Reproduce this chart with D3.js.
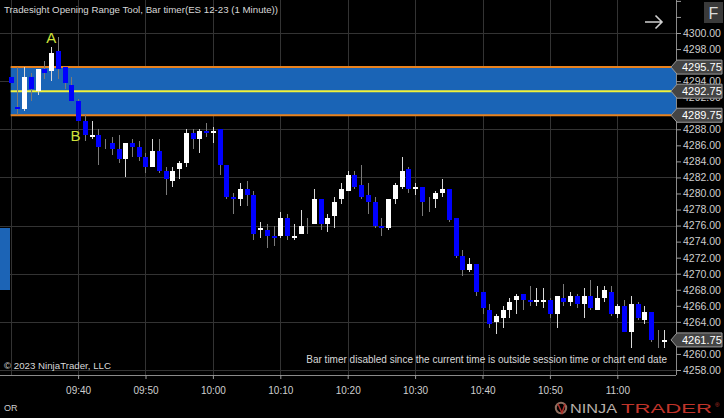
<!DOCTYPE html>
<html><head><meta charset="utf-8">
<script src="https://cdn.jsdelivr.net/npm/d3@7/dist/d3.min.js"></script>
<style>html,body{margin:0;padding:0;background:#000;}svg{display:block;}</style>
</head><body>
<svg id="c" width="724" height="418"></svg>
<script>
// ---- data ----
const opens  = [4294.5,4290.75,4290.5,4294.5,4292.75,4295.5,4295.25,4297.75,4295.75,4293.5,4291.5,4289,4287,4287.25,4286.5,4286.25,4285.5,4284.25,4286.25,4285.75,4284.5,4283.25,4285.25,4282.75,4281.5,4283,4283.75,4287.5,4286.75,4287.75,4287.5,4288,4283.5,4279.5,4279.25,4280.5,4279.75,4275.5,4275.5,4274.75,4274.75,4277,4274.5,4275,4275.75,4276.25,4279.25,4276.25,4277.25,4279.25,4280.25,4282.25,4281,4279.75,4279,4276,4275.75,4279.25,4280.75,4283,4280.5,4280.75,4278.5,4279.25,4280,4280.5,4277,4272.25,4270.5,4271.25,4267.75,4265.5,4264,4264.5,4265.5,4266.75,4267.5,4266.75,4266.5,4266.5,4266.75,4265,4267,4266.5,4267.25,4266.25,4267.25,4265.5,4267,4267.75,4265,4266,4262.75,4266.25,4264.25,4265.25,4261.5,4261.5];
const highs  = [4294.5,4295.75,4295.75,4295,4295.5,4296.5,4298.25,4299.5,4295.75,4294.5,4291.75,4289.75,4289,4288,4286.75,4287,4287.25,4286.25,4286.75,4286.5,4285,4286.75,4286.75,4283.25,4283.25,4284,4288,4288,4288,4288.75,4288.25,4288,4283.5,4280,4281.25,4281.5,4280.25,4276.5,4276.25,4276,4277.75,4277.5,4276.25,4278,4277,4280.5,4279.25,4277.5,4279.5,4281.25,4282.75,4282.75,4283.5,4281.25,4279.5,4277,4279.25,4281.25,4284.5,4283.25,4281.25,4280.75,4279.5,4280.25,4281.75,4280.5,4277,4273,4272,4271.25,4267.75,4266.25,4265,4266,4267,4267.5,4267.5,4268.5,4268.25,4268.25,4267,4267.25,4268.75,4267.75,4267.5,4268.25,4269.25,4268.5,4268.5,4268.5,4266.25,4266.75,4267.25,4266.5,4266,4265.25,4263,4263];
const lows   = [4293.75,4289.75,4290.25,4291.5,4292.25,4294.25,4294,4294.25,4293,4291.5,4289,4286.5,4286.75,4283.5,4285.5,4284.75,4283.75,4282,4284.5,4284,4282.5,4283.25,4282.5,4279.75,4280.75,4281.75,4283.25,4285.5,4285,4287,4286.25,4282.25,4279.25,4277.5,4278.5,4278.5,4274.25,4274.5,4273.25,4273.5,4274.5,4274.25,4274.25,4275,4275,4276.25,4275.5,4275.25,4275.75,4278.75,4280.25,4280.5,4279.25,4277.5,4275.75,4274.75,4275.5,4278.75,4280.5,4280,4279.75,4277.25,4277.75,4278.25,4279.5,4276.5,4272,4269.75,4270.25,4267.25,4265,4263.25,4262.5,4263.25,4264.5,4265,4265.5,4266,4266,4265.75,4264.5,4263.25,4266,4266,4265.75,4264.5,4265.5,4265.5,4266.5,4264.75,4264.5,4262.75,4260.75,4264.25,4263.75,4261.5,4260.75,4260.75];
const closes = [4293.75,4290.5,4294.5,4293,4295.5,4295,4297.5,4295.5,4293.75,4291.5,4289,4287.25,4287.25,4285.75,4286.5,4285.5,4284.25,4286.25,4285.75,4284.5,4283.25,4285.25,4282.75,4281.75,4282.75,4283.75,4287.5,4286.75,4287.75,4287.5,4287.75,4283.5,4279.5,4279.25,4280.5,4279.75,4275,4275.75,4274.75,4274.5,4277,4274.75,4274.75,4276,4275.75,4279.25,4276.25,4277,4279,4280.5,4282.25,4280.75,4279.5,4279,4276,4275.75,4279.25,4281,4282.75,4280.5,4280.75,4279,4278.5,4280,4280.5,4276.75,4272.25,4270.5,4271.25,4267.75,4265.75,4263.75,4264.75,4265.5,4266.5,4267.25,4266.75,4266.5,4266.75,4266.75,4265,4267.25,4266.5,4267.25,4266.25,4267.25,4265.75,4267,4268,4265,4266,4262.75,4266.25,4264.5,4265.25,4261.75,4261.5,4261.75];
const timeTicks = [10,20,30,40,50,60,70,80,90];           // minutes after 09:30
const timeLabels = ["09:40","09:50","10:00","10:10","10:20","10:30","10:40","10:50","11:00"];
const gridMinutes = [0,10,20,30,40,50,60,70,80,90];
const priceTicks = [4258,4260,4262,4264,4266,4268,4270,4272,4274,4276,4278,4280,4282,4284,4286,4288,4290,4292,4294,4296,4298,4300,4302,4304];
const hiddenPriceLabels = [4262,4290,4296,4302,4304];   // covered by markers / button in the reference
const gridPrices = [4258,4264,4270,4276,4282,4288,4294,4300];
const orHigh = 4295.75, orMid = 4292.75, orLow = 4289.75;
const markers = [4295.75, 4292.75, 4289.75, 4261.75];

// ---- scales ----
const svg = d3.select("#c");
const x = d3.scaleLinear().domain([0, 90]).range([10.7, 617.3]);
const y = d3.scaleLinear().domain([4258, 4300]).range([370, 33]);
const W = 676, H = 375;
const font = "'Liberation Sans', Arial, sans-serif";

svg.append("rect").attr("width",724).attr("height",418).attr("fill","#000");

// grid
const g = svg.append("g").attr("shape-rendering","crispEdges");
g.selectAll(".hg").data(gridPrices).join("line")
  .attr("x1",0).attr("x2",W).attr("y1",d=>Math.round(y(d))+0.5).attr("y2",d=>Math.round(y(d))+0.5)
  .attr("stroke","#333").attr("stroke-width",1);
g.selectAll(".vg").data(gridMinutes).join("line")
  .attr("x1",d=>Math.round(x(d))+0.5).attr("x2",d=>Math.round(x(d))+0.5).attr("y1",0).attr("y2",H)
  .attr("stroke","#333").attr("stroke-width",1);

// left side blue block
svg.append("rect").attr("x",0).attr("y",228).attr("width",10).attr("height",62).attr("fill","#1c64b6");

// OR band
svg.append("rect").attr("x",x(0)).attr("y",y(orHigh)).attr("width",W-x(0)).attr("height",y(orLow)-y(orHigh))
  .attr("fill","#1a64b6");
[[orHigh,"#e8821e"],[orLow,"#e8821e"],[orMid,"#f2f23a"]].forEach(([v,c])=>{
  svg.append("line").attr("x1",x(0)).attr("x2",W).attr("y1",y(v)).attr("y2",y(v)).attr("stroke",c).attr("stroke-width",2);
});

// candles
const bars = opens.map((o,i)=>({i,o,h:highs[i],l:lows[i],c:closes[i]}));
const cg = svg.append("g").attr("shape-rendering","crispEdges");
cg.selectAll(".wick").data(bars).join("line")
  .attr("x1",d=>Math.round(x(d.i))+0.5).attr("x2",d=>Math.round(x(d.i))+0.5)
  .attr("y1",d=>y(d.h)).attr("y2",d=>y(d.l))
  .attr("stroke",d=>d.c>d.o?"#d8d8d8":"#7a7a7a").attr("stroke-width",1);
cg.selectAll(".body").data(bars.filter(d=>d.o!==d.c)).join("rect")
  .attr("x",d=>Math.round(x(d.i))-2).attr("width",5)
  .attr("y",d=>y(Math.max(d.o,d.c))).attr("height",d=>Math.max(1,Math.abs(y(d.o)-y(d.c))))
  .attr("fill",d=>d.c>d.o?"#ffffff":"#0000ff");

// A / B labels
svg.append("text").attr("x",x(6)).attr("y",43).attr("text-anchor","middle").attr("font-family",font)
  .attr("font-size",15).attr("fill","#cfe23a").text("A");
svg.append("text").attr("x",x(9.6)).attr("y",141).attr("text-anchor","middle").attr("font-family",font)
  .attr("font-size",15).attr("fill","#cfe23a").text("B");

// frame
svg.append("line").attr("x1",W+0.5).attr("x2",W+0.5).attr("y1",0).attr("y2",H).attr("stroke","#8a8a8a");
svg.append("line").attr("x1",0).attr("x2",W).attr("y1",H+0.5).attr("y2",H+0.5).attr("stroke","#8a8a8a");

// right axis
const ya = svg.append("g").attr("transform",`translate(${W},0)`)
  .call(d3.axisRight(y).tickValues(priceTicks).tickSize(5).tickPadding(2)
    .tickFormat(d=>hiddenPriceLabels.includes(d)?"":d3.format(".2f")(d)));
ya.select(".domain").remove();
ya.selectAll("line").attr("stroke","#9a9a9a");
ya.selectAll("text").attr("fill","#cfcfcf").attr("font-family",font).attr("font-size",10.5);

// time axis
const xa = svg.append("g").attr("transform",`translate(0,${H})`)
  .call(d3.axisBottom(x).tickValues(timeTicks).tickSize(4).tickPadding(8)
    .tickFormat((d,i)=>timeLabels[i]));
xa.select(".domain").remove();
xa.selectAll("line").attr("stroke","#9a9a9a");
xa.selectAll("text").attr("fill","#cfcfcf").attr("font-family",font).attr("font-size",10);

// price markers
markers.forEach(v=>{
  const yy = y(v);
  svg.append("path").attr("d",`M671,${yy} L677,${yy-7} H722 V${yy+7} H677 Z`)
    .attr("fill","#444").attr("stroke","#9a9a9a").attr("stroke-width",1);
  svg.append("text").attr("x",682).attr("y",yy+4).attr("font-family",font).attr("font-size",11)
    .attr("fill","#fff").text(d3.format(".2f")(v));
});

// texts
svg.append("text").attr("x",4).attr("y",13).attr("font-family",font).attr("font-size",9.7)
  .attr("fill","#d8d8d8").text("Tradesight Opening Range Tool, Bar timer(ES 12-23 (1 Minute))");
svg.append("text").attr("x",4).attr("y",369).attr("font-family",font).attr("font-size",9.7)
  .attr("fill","#d8d8d8").text("© 2023 NinjaTrader, LLC");
svg.append("text").attr("x",667).attr("y",363).attr("text-anchor","end").attr("font-family",font).attr("font-size",10)
  .attr("fill","#d8d8d8").text("Bar timer disabled since the current time is outside session time or chart end date");
svg.append("text").attr("x",4).attr("y",411).attr("font-family",font).attr("font-size",9)
  .attr("fill","#cfcfcf").text("OR");

// top-right arrow and F button
svg.append("path").attr("d","M645,22 H662 M655.5,15.5 L662,22 L655.5,28.5").attr("fill","none")
  .attr("stroke","#d0d0d0").attr("stroke-width",1.6);
svg.append("rect").attr("x",704).attr("y",2).attr("width",19).attr("height",21).attr("fill","#3a3a3a");
svg.append("text").attr("x",713.5).attr("y",18.5).attr("text-anchor","middle").attr("font-family",font)
  .attr("font-size",16).attr("fill","#dcdcdc").text("F");

// logo
svg.append("circle").attr("cx",561).attr("cy",408).attr("r",5.2).attr("fill","none").attr("stroke","#8f6f60").attr("stroke-width",2);
svg.append("path").attr("d","M558,404 L562,413 L565,404").attr("fill","none").attr("stroke","#b0302a").attr("stroke-width",1.5);
svg.append("text").attr("x",570).attr("y",413).attr("font-family",font).attr("font-size",12.5)
  .attr("textLength",47).attr("lengthAdjust","spacingAndGlyphs").attr("fill","#b9b0aa").text("NINJA");
svg.append("text").attr("x",621).attr("y",413).attr("font-family",font).attr("font-size",12.5)
  .attr("textLength",91).attr("lengthAdjust","spacingAndGlyphs").attr("fill","#c0342a").text("TRADER");
svg.append("text").attr("x",715).attr("y",407).attr("font-family",font).attr("font-size",6)
  .attr("fill","#c0342a").text("®");
</script>
</body></html>
